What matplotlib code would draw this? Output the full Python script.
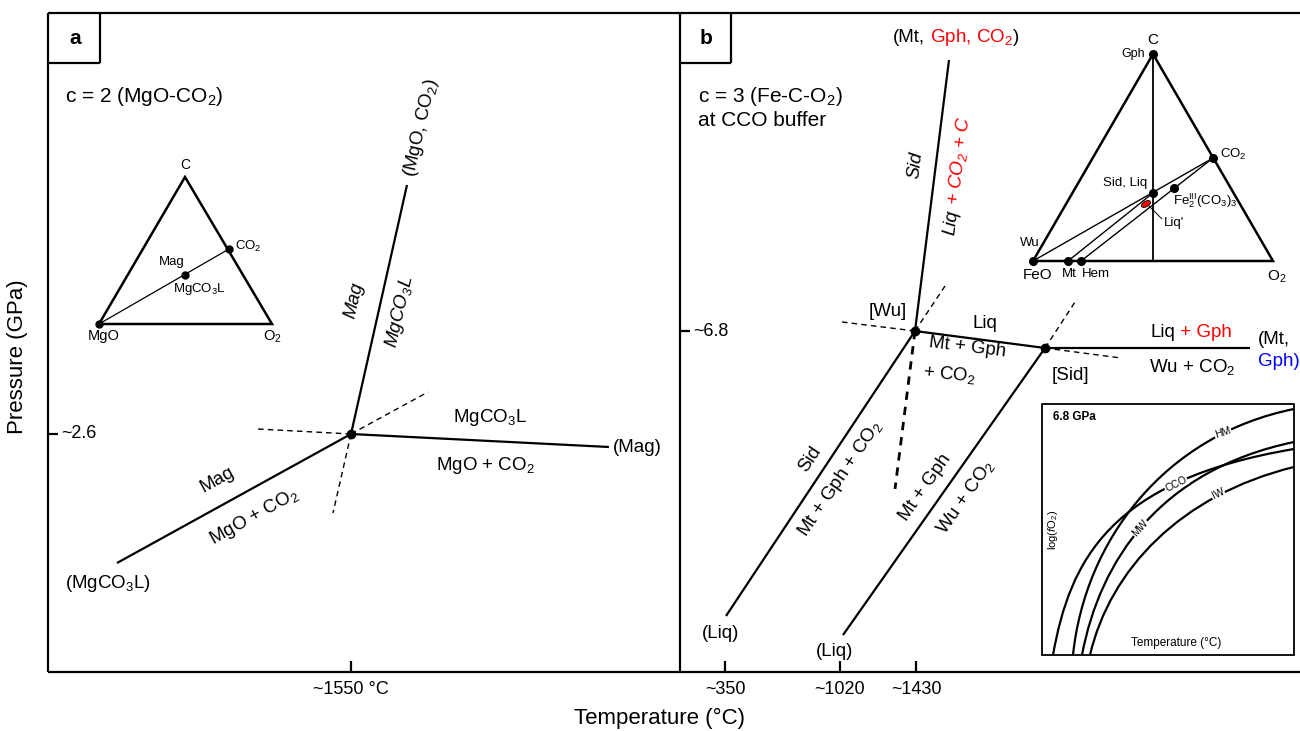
import numpy as np
import matplotlib.pyplot as plt
from matplotlib.path import Path
from matplotlib.patches import PathPatch, Ellipse, Rectangle

plt.rcParams['font.family'] = ['Liberation Sans', 'DejaVu Sans']
plt.rcParams['mathtext.fontset'] = 'custom'
plt.rcParams['mathtext.rm'] = 'Liberation Sans'
plt.rcParams['mathtext.it'] = 'Liberation Sans:italic'
plt.rcParams['mathtext.bf'] = 'Liberation Sans:bold'
plt.rcParams['mathtext.default'] = 'regular'

# ---- schematic data (figure pixel units, y down) ----
# panel a: MgO-CO2, one invariant point
a_node = (351, 434)
a_solid_ends = [(117, 563), (609, 447), (407, 185)]
a_dash_ends = [(258, 429), (428, 392), (333, 513)]
# panel b: Fe-C-O2 at CCO, invariant points [Wu] and [Sid]
b_wu = (915, 331)
b_sid = (1045, 348)
b_wu_ends = [(949, 60), (726, 616)]
b_sid_ends = [(1250, 348), (843, 635)]
b_wu_dash = [(842, 322), (947, 283)]
b_wu_dash_thick = (895, 489)
b_sid_dash = [(1077, 299), (1121, 358)]

# ternary insets
tri_a = [(185, 177), (99, 324), (272, 324)]
tri_a_co2 = (229, 249)
tri_a_mag = (185, 275)
tri_b = [(1153, 54), (1033, 261), (1273, 261)]
tri_b_co2 = (1213, 158)
tri_b_sid = (1153, 193)
tri_b_fe3 = (1174, 188)
tri_b_mt = (1068, 261)
tri_b_hem = (1081, 261)
liq_blob = (1146, 204)

# fO2 buffer inset (bezier control points)
box_fo2 = (1042, 404, 252, 251)
buffers = {
    'HM':  [(1073, 655), (1085, 540), (1165, 435), (1294, 409)],
    'CCO': [(1053, 655), (1070, 560), (1110, 480), (1294, 449)],
    'MW':  [(1082, 655), (1100, 560), (1160, 470), (1294, 442)],
    'IW':  [(1090, 655), (1110, 570), (1180, 495), (1294, 467)],
}
buffer_lab = {'HM': (1223, 433, 18), 'CCO': (1176, 484, 27),
              'MW': (1140, 528, 48), 'IW': (1218, 494, 26)}

xticks_a = [351]
xticklabels_a = ['~1550 °C']
xticks_b = [725, 840, 916]
xticklabels_b = ['~350', '~1020', '~1430']
yticks = [(48, 434, '~2.6'), (680, 331, '~6.8')]

fig = plt.figure(figsize=(13, 7.31), dpi=100)
ax = fig.add_axes([0, 0, 1, 1])
ax.set_xlim(0, 1300)
ax.set_ylim(731, 0)
ax.axis('off')
rend = fig.canvas.get_renderer()
LW = 1.6


def seg(p, q, lw=LW, **kw):
    ax.plot([p[0], q[0]], [p[1], q[1]], color='k', lw=lw,
            solid_capstyle='butt', **kw)


def dash(p, q, lw=1.0, on=4, off=3):
    ax.plot([p[0], q[0]], [p[1], q[1]], color='k', lw=lw, dashes=(on, off))


def dot(p, ms=6):
    ax.plot(p[0], p[1], 'o', color='k', ms=ms, zorder=5)


def lab(x, y, s, size=13.5, rot=0, **kw):
    kw.setdefault('ha', 'center')
    kw.setdefault('va', 'center')
    ax.text(x, y, s, fontsize=size, rotation=rot, rotation_mode='anchor', **kw)


def ctext(x, y, parts, size=13.5, angle=0, style='normal'):
    # multi-coloured text, (x, y) = middle of the baseline
    ts, ws = [], []
    for s, c in parts:
        t = ax.text(0, 0, s, color=c, fontsize=size, style=style, ha='left',
                    va='baseline', rotation_mode='anchor')
        ws.append(t.get_window_extent(renderer=rend).width)
        ts.append(t)
    th = np.radians(angle)
    dx, dy = np.cos(th), -np.sin(th)
    cx = x - sum(ws) / 2 * dx
    cy = y - sum(ws) / 2 * dy
    for t, w in zip(ts, ws):
        t.set_position((cx, cy))
        t.set_rotation(angle)
        cx += w * dx
        cy += w * dy


# ---- frame ----
seg((48, 13), (1300, 13))
seg((48, 13), (48, 672))
seg((48, 672), (1300, 672))
seg((680, 13), (680, 672))
seg((48, 63), (100, 63)); seg((100, 13), (100, 63))
seg((680, 63), (731, 63)); seg((731, 13), (731, 63))
lab(75, 39, 'a', size=15, weight='bold')
lab(706, 39, 'b', size=15, weight='bold')

for x, s in zip(xticks_a + xticks_b, xticklabels_a + xticklabels_b):
    seg((x, 661), (x, 672))
    lab(x, 690, s, size=13)
for x, y, s in yticks:
    seg((x, y), (x + 10, y))
    lab(x + 13, y, s, size=13, ha='left')

lab(18, 357, 'Pressure (GPa)', size=16, rot=90)
lab(660, 718, 'Temperature (°C)', size=16)

# ---- panel a ----
lab(65, 97, 'c = 2 (MgO-CO$_2$)', size=15, ha='left')
for e in a_solid_ends:
    seg(a_node, e)
for e in a_dash_ends:
    dash(a_node, e)
dot(a_node)
lab(217, 480, 'Mag', rot=29)
lab(254, 517, 'MgO + CO$_2$', rot=29)
lab(108, 584, '(MgCO$_3$L)')
lab(490, 418, 'MgCO$_3$L')
lab(485, 465, 'MgO + CO$_2$')
lab(613, 447, '(Mag)', ha='left')
lab(354, 300, 'Mag', rot=77, style='italic')
lab(400, 312, 'MgCO$_3$L', rot=77, style='italic')
lab(421, 128, '(MgO, CO$_2$)', rot=77)

# ternary a
ax.add_patch(plt.Polygon(tri_a, closed=True, fill=False, lw=1.8, joinstyle='miter'))
seg(tri_a[1], tri_a_co2, lw=0.9)
for p in (tri_a[1], tri_a_co2, tri_a_mag):
    dot(p, ms=5)
lab(185, 165, 'C', size=10)
lab(235, 246, 'CO$_2$', size=9.5, ha='left')
lab(172, 262, 'Mag', size=9.5)
lab(199, 289, 'MgCO$_3$L', size=9.5)
lab(104, 336, 'MgO', size=10.5)
lab(272, 337, 'O$_2$', size=10.5)

# ---- panel b ----
lab(698, 97, 'c = 3 (Fe-C-O$_2$)', size=15, ha='left')
lab(698, 121, 'at CCO buffer', size=15, ha='left')
for e in b_wu_ends:
    seg(b_wu, e)
seg(b_wu, b_sid)
for e in b_sid_ends:
    seg(b_sid, e)
for e in b_wu_dash:
    dash(b_wu, e)
dash(b_wu, b_wu_dash_thick, lw=2.0, on=3, off=2.5)
for e in b_sid_dash:
    dash(b_sid, e)
dot(b_wu)
dot(b_sid)

ctext(956, 42, [('(Mt,', 'k'), (' Gph, CO$_2$', 'red'), (')', 'k')])
lab(916, 165, 'Sid', rot=83, style='italic')
ctext(962, 176, [('Liq', 'k'), (' + CO$_2$ + C', 'red')], angle=83, style='italic')
lab(888, 312, '[Wu]')
lab(985, 323, 'Liq')
lab(967, 347, 'Mt + Gph', rot=-7)
lab(949, 374, '+ CO$_2$', rot=-5)
lab(1070, 376, '[Sid]')
ctext(1191, 337, [('Liq', 'k'), (' + Gph', 'red')])
lab(1192, 367, 'Wu + CO$_2$')
lab(1258, 340, '(Mt,', ha='left')
lab(1258, 362, 'Gph)', ha='left', color='blue')
lab(810, 459, 'Sid', rot=56)
lab(840, 479, 'Mt + Gph + CO$_2$', rot=56)
lab(925, 487, 'Mt + Gph', rot=55)
lab(966, 497, 'Wu + CO$_2$', rot=55)
lab(721, 633, '(Liq)')
lab(835, 651, '(Liq)')

# ternary b
ax.add_patch(plt.Polygon(tri_b, closed=True, fill=False, lw=1.8, joinstyle='miter'))
seg(tri_b[0], (tri_b[0][0], tri_b[1][1]), lw=1.3)
seg(tri_b[1], tri_b_co2, lw=1.0)
seg(tri_b_mt, tri_b_sid, lw=1.0)
seg(tri_b_hem, tri_b_co2, lw=1.0)
for p in (tri_b[0], tri_b[1], tri_b_co2, tri_b_sid, tri_b_fe3, tri_b_mt, tri_b_hem):
    dot(p, ms=5.5)
ax.add_patch(Ellipse(liq_blob, 10, 5.5, angle=-30, facecolor='red',
                     edgecolor='k', lw=0.6, zorder=6))
seg((1149, 206), (1162, 219), lw=0.7)
lab(1153, 40, 'C', size=11)
lab(1145, 54, 'Gph', size=9, ha='right')
lab(1220, 154, 'CO$_2$', size=9.5, ha='left')
lab(1147, 183, 'Sid, Liq', size=9.5, ha='right')
lab(1173, 201, 'Fe$_2^{III}$(CO$_3$)$_3$', size=9.5, ha='left')
lab(1164, 223, "Liq'", size=9.5, ha='left')
lab(1020, 243, 'Wu', size=9.5, ha='left')
lab(1038, 275, 'FeO', size=11)
lab(1069, 274, 'Mt', size=9.5)
lab(1096, 274, 'Hem', size=9.5)
lab(1277, 277, 'O$_2$', size=11)

# fO2 inset
bx, by, bw, bh = box_fo2
ax.add_patch(Rectangle((bx, by), bw, bh, fill=False, lw=1.3, zorder=3))
for name, pts in buffers.items():
    path = Path(pts, [Path.MOVETO, Path.CURVE4, Path.CURVE4, Path.CURVE4])
    ax.add_patch(PathPatch(path, fill=False, lw=1.6, edgecolor='k', zorder=2,
                           clip_on=True))
    x, y, r = buffer_lab[name]
    lab(x, y, name, size=7.5, rot=r, zorder=4,
        bbox=dict(facecolor='white', edgecolor='none', pad=0.5))
lab(bx + 11, by + 13, '6.8 GPa', size=8.5, ha='left', weight='bold')
lab(1053, 530, 'log($\\mathit{f}$O$_2$)', size=8, rot=90)
lab(bx + bw / 2 + 8, by + bh - 12, 'Temperature (°C)', size=8.5)

fig.savefig('out.png', dpi=100)
